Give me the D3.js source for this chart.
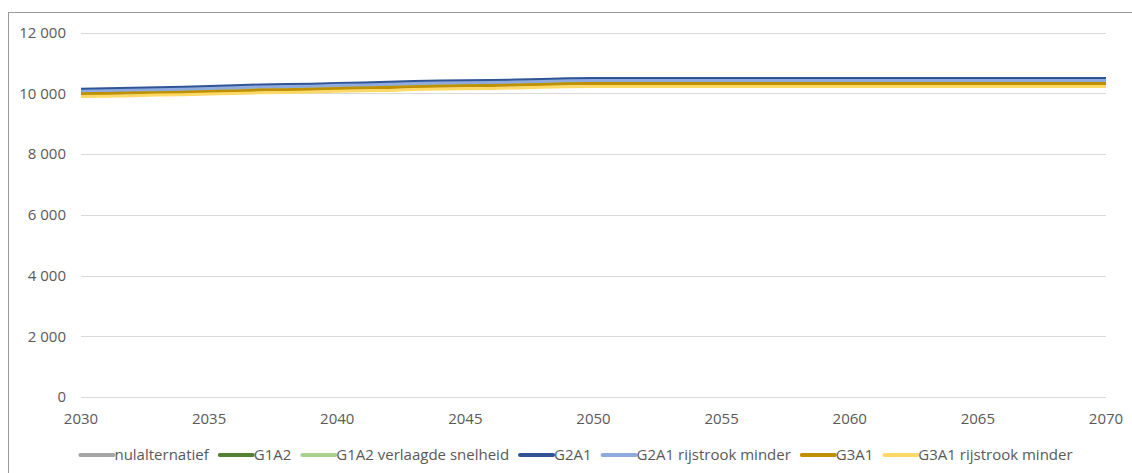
<!DOCTYPE html>
<html>
<head>
<meta charset="utf-8">
<script src="https://cdn.jsdelivr.net/npm/d3@7"></script>
<style>
  html, body { margin: 0; padding: 0; background: #fff; }
  svg { display: block; }
  text { font-family: "Open Sans", "Liberation Sans", sans-serif; fill: #595959; }
</style>
</head>
<body>
<svg id="chart" width="1132" height="473"></svg>
<script>
const years = [2030,2031,2032,2033,2034,2035,2036,2037,2038,2039,2040,2041,2042,2043,2044,2045,2046,2047,2048,2049,2050,2051,2052,2053,2054,2055,2056,2057,2058,2059,2060,2061,2062,2063,2064,2065,2066,2067,2068,2069,2070];

const nulalternatief = [9985,9995,10010,10025,10040,10060,10080,10110,10120,10135,10160,10175,10195,10220,10240,10250,10260,10275,10295,10320,10323,10323,10323,10323,10323,10323,10323,10323,10323,10323,10323,10323,10323,10323,10323,10323,10323,10323,10323,10323,10323];
const g1a2 = [10070,10085,10105,10120,10135,10160,10185,10215,10225,10240,10265,10280,10300,10325,10345,10355,10360,10375,10395,10420,10422,10422,10422,10422,10422,10422,10422,10422,10422,10422,10422,10422,10422,10422,10422,10422,10422,10422,10422,10422,10422];
const g1a2Verlaagd = [10070,10085,10105,10120,10135,10160,10185,10215,10225,10240,10265,10280,10300,10325,10345,10355,10360,10375,10395,10420,10422,10422,10422,10422,10422,10422,10422,10422,10422,10422,10422,10422,10422,10422,10422,10422,10422,10422,10422,10422,10422];
const g2a1 = [10135,10150,10170,10185,10200,10225,10250,10280,10290,10305,10330,10345,10365,10390,10410,10420,10425,10440,10460,10485,10488,10488,10488,10488,10488,10488,10488,10488,10488,10488,10488,10488,10488,10488,10488,10488,10488,10488,10488,10488,10488];
const g2a1Rm = [10070,10085,10105,10120,10135,10160,10185,10215,10225,10240,10265,10280,10300,10325,10345,10355,10360,10375,10395,10420,10422,10422,10422,10422,10422,10422,10422,10422,10422,10422,10422,10422,10422,10422,10422,10422,10422,10422,10422,10422,10422];
const g3a1 = [9985,9995,10010,10025,10040,10060,10080,10110,10120,10135,10160,10175,10195,10220,10240,10250,10260,10275,10295,10320,10323,10323,10323,10323,10323,10323,10323,10323,10323,10323,10323,10323,10323,10323,10323,10323,10323,10323,10323,10323,10323];
const g3a1Rm = [9900,9910,9925,9945,9960,9980,10000,10020,10030,10045,10070,10085,10100,10125,10145,10155,10165,10180,10200,10222,10224,10224,10224,10224,10224,10224,10224,10224,10224,10224,10224,10224,10224,10224,10224,10224,10224,10224,10224,10224,10224];

const seriesNames = ["nulalternatief","G1A2","G1A2 verlaagde snelheid","G2A1","G2A1 rijstrook minder","G3A1","G3A1 rijstrook minder"];
const seriesColors = ["#A5A5A5","#548235","#A9D18E","#2F5597","#8FAADC","#BF9000","#FFD966"];
const seriesValues = [nulalternatief, g1a2, g1a2Verlaagd, g2a1, g2a1Rm, g3a1, g3a1Rm];

const yTicks = [0,2000,4000,6000,8000,10000,12000];
const xTicks = [2030,2035,2040,2045,2050,2055,2060,2065,2070];

const svg = d3.select("#chart");

// outer chart border
svg.append("rect").attr("x", 8.5).attr("y", 12.5).attr("width", 1140).attr("height", 480)
  .attr("fill", "none").attr("stroke", "#9a9a9a").attr("stroke-width", 1);

const x = d3.scaleLinear().domain([2030, 2070]).range([81, 1106]);
const y = d3.scaleLinear().domain([0, 12000]).range([397, 32.7]);

const fmt = v => d3.format(",")(v).replace(/,/g, " ");
const FS = 15;

// gridlines
svg.append("g").selectAll("line").data(yTicks).join("line")
  .attr("x1", x(2030)).attr("x2", x(2070))
  .attr("y1", d => Math.round(y(d)) + 0.5).attr("y2", d => Math.round(y(d)) + 0.5)
  .attr("stroke", "#d9d9d9").attr("stroke-width", 1);

// y labels
svg.append("g").selectAll("text").data(yTicks).join("text")
  .attr("x", 66).attr("y", d => y(d)).attr("dy", "0.35em")
  .attr("text-anchor", "end").attr("font-size", FS).text(d => fmt(d));

// x labels
svg.append("g").selectAll("text").data(xTicks).join("text")
  .attr("x", d => x(d)).attr("y", 419).attr("dy", "0.35em")
  .attr("text-anchor", "middle").attr("font-size", FS).text(d => d);

// lines
const line = d3.line().x((d, i) => x(years[i])).y(d => y(d));
svg.append("g").selectAll("path").data(seriesValues).join("path")
  .attr("d", d => line(d)).attr("fill", "none")
  .attr("stroke", (d, i) => seriesColors[i]).attr("stroke-width", 3)
  .attr("stroke-linejoin", "round");

// legend
const legend = svg.append("g");
const ly = 455;
const items = [];
seriesNames.forEach((name, i) => {
  const g = legend.append("g");
  g.append("line").attr("x1", 0).attr("x2", 33).attr("y1", ly).attr("y2", ly)
    .attr("stroke", seriesColors[i]).attr("stroke-width", 4).attr("stroke-linecap", "round");
  const t = g.append("text").attr("x", 34).attr("y", ly).attr("dy", "0.35em")
    .attr("font-size", FS).text(name);
  items.push({g, w: 34 + t.node().getComputedTextLength()});
});
const gap = 11;
const total = d3.sum(items, d => d.w) + gap * (items.length - 1);
let lx = 576.5 - total / 2;
items.forEach(it => { it.g.attr("transform", `translate(${lx},0)`); lx += it.w + gap; });
</script>
</body>
</html>
